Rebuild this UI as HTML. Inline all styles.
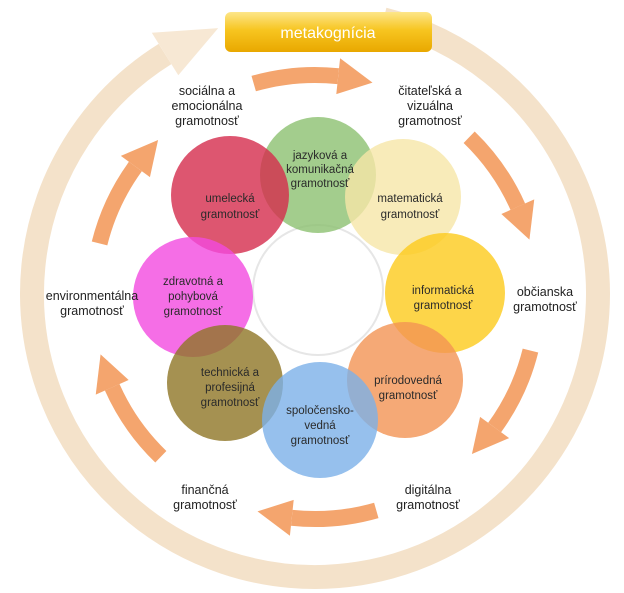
<!DOCTYPE html>
<html><head><meta charset="utf-8"><style>
html,body{margin:0;padding:0;background:#fff;}
svg{display:block;font-family:"Liberation Sans",sans-serif;}
.l{font-size:12.5px;fill:#222;text-anchor:middle;}
.c{font-size:11.5px;fill:#2a2a2a;text-anchor:middle;}
circle.k{opacity:0.8;}
</style></head><body>
<svg width="624" height="593" viewBox="0 0 624 593" xmlns="http://www.w3.org/2000/svg">
<defs>
<linearGradient id="gold" x1="0" y1="0" x2="0" y2="1">
<stop offset="0" stop-color="#fde68a"/><stop offset="0.45" stop-color="#f7c520"/><stop offset="1" stop-color="#e9a800"/>
</linearGradient>
<g id="arr">
<path d="M528.4,235.7 A222,222 0 0 1 535.8,320.2" fill="none" stroke="#f4a56e" stroke-width="16"/>
<polygon points="517.9,318.3 553.7,322.1 529.4,354.5" fill="#f4a56e"/>
</g>
</defs>
<!-- outer ring -->
<path d="M383.5,19.4 A283,283 0 1 1 165,54" fill="none" stroke="#f4e2ca" stroke-width="24"/>
<polygon points="178.3,75.2 151.8,32.8 218.2,28.1" fill="#f7e8d4"/>
<!-- metakognicia -->
<rect x="225" y="12" width="207" height="40" rx="6" fill="url(#gold)"/>
<text x="328" y="38" font-size="16" fill="#fff" text-anchor="middle">metakognícia</text>
<!-- inner arrows -->
<use href="#arr" transform="rotate(270 315 297)"/>
<use href="#arr" transform="rotate(330 315 297)"/>
<use href="#arr" transform="rotate(30 315 297)"/>
<use href="#arr" transform="rotate(90 315 297)"/>
<use href="#arr" transform="rotate(150 315 297)"/>
<use href="#arr" transform="rotate(210 315 297)"/>
<!-- center -->
<circle cx="318" cy="290" r="65" fill="#fff" stroke="#e6e6e6" stroke-width="2"/>
<!-- circles -->
<circle class="k" cx="318" cy="175" r="58" fill="#8cc070"/>
<circle class="k" cx="403" cy="197" r="58" fill="#f6e6a8"/>
<circle class="k" cx="230" cy="195" r="59" fill="#d42c4c"/>
<circle class="k" cx="193" cy="297" r="60" fill="#f24ae0"/>
<circle class="k" cx="445" cy="293" r="60" fill="#fccb1c"/>
<circle class="k" cx="405" cy="380" r="58" fill="#f39454"/>
<circle class="k" cx="225" cy="383" r="58" fill="#8f7626"/>
<circle class="k" cx="320" cy="420" r="58" fill="#7cb0e8"/>
<!-- circle labels -->
<text class="c" x="320" y="159">jazyková a</text>
<text class="c" x="320" y="173">komunikačná</text>
<text class="c" x="320" y="187">gramotnosť</text>
<text class="c" x="230" y="202">umelecká</text>
<text class="c" x="230" y="218">gramotnosť</text>
<text class="c" x="410" y="202">matematická</text>
<text class="c" x="410" y="218">gramotnosť</text>
<text class="c" x="193" y="285">zdravotná a</text>
<text class="c" x="193" y="300">pohybová</text>
<text class="c" x="193" y="315">gramotnosť</text>
<text class="c" x="443" y="294">informatická</text>
<text class="c" x="443" y="309">gramotnosť</text>
<text class="c" x="230" y="376">technická a</text>
<text class="c" x="230" y="391">profesijná</text>
<text class="c" x="230" y="406">gramotnosť</text>
<text class="c" x="408" y="384">prírodovedná</text>
<text class="c" x="408" y="399">gramotnosť</text>
<text class="c" x="320" y="414">spoločensko-</text>
<text class="c" x="320" y="429">vedná</text>
<text class="c" x="320" y="444">gramotnosť</text>
<!-- outer labels -->
<text class="l" x="207" y="95">sociálna a</text>
<text class="l" x="207" y="110">emocionálna</text>
<text class="l" x="207" y="125">gramotnosť</text>
<text class="l" x="430" y="95">čitateľská a</text>
<text class="l" x="430" y="110">vizuálna</text>
<text class="l" x="430" y="125">gramotnosť</text>
<text class="l" x="545" y="296">občianska</text>
<text class="l" x="545" y="311">gramotnosť</text>
<text class="l" x="92" y="300">environmentálna</text>
<text class="l" x="92" y="315">gramotnosť</text>
<text class="l" x="428" y="494">digitálna</text>
<text class="l" x="428" y="509">gramotnosť</text>
<text class="l" x="205" y="494">finančná</text>
<text class="l" x="205" y="509">gramotnosť</text>
</svg>
</body></html>
